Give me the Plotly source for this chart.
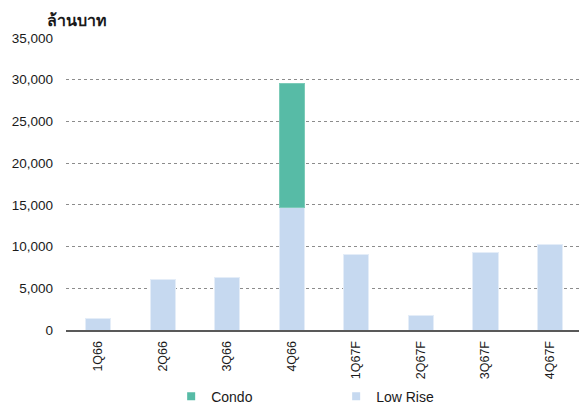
import plotly.graph_objects as go

quarters = ["1Q66", "2Q66", "3Q66", "4Q66", "1Q67F", "2Q67F", "3Q67F", "4Q67F"]
low_rise = [1400, 6100, 6350, 14650, 9000, 1750, 9250, 10300]
condo = [None, None, None, 14950, None, None, None, None]
y_ticks = [0, 5000, 10000, 15000, 20000, 25000, 30000, 35000]

LOW_RISE_COLOR = "#C6D9F0"
CONDO_COLOR = "#57BBA6"
FONT = "Liberation Sans, Arial, sans-serif"

fig = go.Figure()
# stacked bars (legend drawn by the small square markers below)
fig.add_trace(go.Bar(
    x=quarters, y=low_rise, name="Low Rise", showlegend=False,
    marker=dict(color=LOW_RISE_COLOR, line=dict(color="#E4EDF8", width=1)),
    width=0.39,
))
fig.add_trace(go.Bar(
    x=quarters, y=condo, name="Condo", showlegend=False,
    marker=dict(color=CONDO_COLOR, line=dict(color="#7CCBB8", width=1)),
    width=0.39,
))
# legend entries with small square keys
for name, color in [("Condo", CONDO_COLOR), ("Low Rise", LOW_RISE_COLOR)]:
    fig.add_trace(go.Scatter(
        x=[None], y=[None], mode="markers", name=name,
        marker=dict(symbol="square", size=8, color=color),
    ))

fig.update_layout(
    width=579, height=404,
    barmode="stack",
    plot_bgcolor="white", paper_bgcolor="white",
    margin=dict(l=66, r=0, t=38, b=74, pad=0, autoexpand=False),
    font=dict(family=FONT, size=12, color="#1a1a1a"),
    showlegend=True,
    legend=dict(
        orientation="h", traceorder="normal",
        x=0.205, xanchor="left",
        yref="container", y=0.058, yanchor="top",
        font=dict(size=14), entrywidth=120,
    ),
    title=dict(
        text="<b>ล้านบาท</b>", xref="container", yref="container",
        x=47 / 579, xanchor="left", y=1 - 15 / 404, yanchor="top",
        font=dict(size=16, color="#1a1a1a"),
    ),
)

fig.update_xaxes(
    range=[-0.5, 7.45], tickangle=-90, showgrid=False,
    showline=True, linecolor="#595959", linewidth=2,
    ticks="", tickfont=dict(size=12.5), ticklabelstandoff=4,
)
fig.update_yaxes(
    range=[0, 35000], tickvals=y_ticks, tickformat=",",
    showgrid=True, gridcolor="#8c8c8c", griddash="dot", gridwidth=1,
    zeroline=False, showline=False, ticks="",
    tickfont=dict(size=13.5), ticklabelstandoff=12,
)

fig.write_html("out.html")
